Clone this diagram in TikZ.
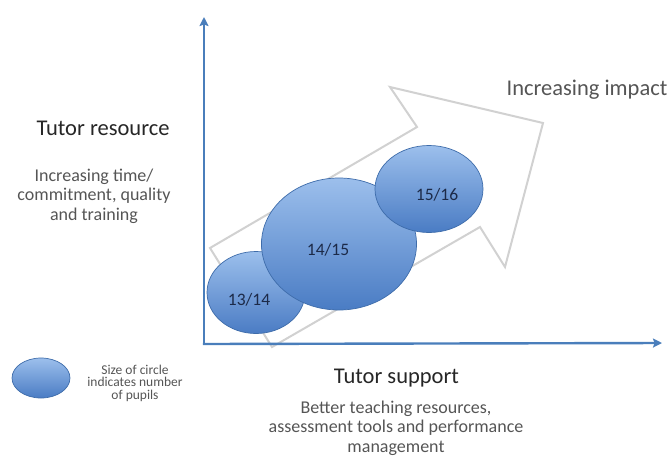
\documentclass[tikz,border=0pt]{standalone}
\usepackage{fontspec}
\setmainfont{Carlito}
\usetikzlibrary{arrows.meta,shapes.geometric,positioning}
\definecolor{axisblue}{HTML}{4A7EBB}
\definecolor{blobtop}{HTML}{9CBFEC}
\definecolor{blobbot}{HTML}{4A7CC4}
\definecolor{blobline}{HTML}{3E6CAA}
\definecolor{labelink}{HTML}{1C2A48}
\definecolor{softgray}{HTML}{555555}

\begin{document}
\begin{tikzpicture}[x=1pt, y=-1pt, >={Stealth[length=9pt,width=9pt,inset=1.5pt]},
    axis/.style={->, draw=axisblue, line width=2.4pt},
    blob/.style={ellipse, draw=blobline, line width=0.7pt, top color=blobtop, bottom color=blobbot, inner sep=0pt},
    year/.style={font=\fontsize{17.5}{19}\selectfont, text=labelink},
    heading/.style={font=\fontsize{22.5}{26}\selectfont, text=black!85},
    detail/.style={font=\fontsize{18}{19.5}\selectfont, text=softgray, align=center},
    legendtext/.style={font=\fontsize{13.5}{12.5}\selectfont, text=softgray, align=center}]
    \useasboundingbox (0,0) rectangle (672,459);

    % hollow arrow behind the circles
    \coordinate (t1) at (210,248);
    \coordinate (n1) at (417,127);
    \coordinate (h1) at (390,87);
    \coordinate (tip) at (543,123);
    \coordinate (h2) at (505,267);
    \coordinate (n2) at (480,227);
    \coordinate (t2) at (272,347);
    \draw[black!18, line width=2pt, line join=miter] (t1) -- (n1) -- (h1) -- (tip) -- (h2) -- (n2) -- (t2) -- cycle;

    % axes
    \coordinate (o) at (204,344);
    \coordinate (ytop) at (204,17);
    \coordinate (xend) at (662,343);
    \draw[axis] (o) -- (ytop);
    \draw[axis] ([xshift=-1.2pt]o) -- (xend);

    % yearly circles, size = number of pupils
    \node[blob, minimum width=98pt, minimum height=82pt] (y13) at (256,292.5) {};
    \node[blob, minimum width=155pt, minimum height=132pt] (y14) at (339,244) {};
    \node[blob, minimum width=108pt, minimum height=87pt] (y15) at (429,189) {};
    \node[year] (l13) at ([shift={(-7,7)}]y13.center) {13/14};
    \node[year] (l14) at ([shift={(-11,6)}]y14.center) {14/15};
    \node[year] (l15) at ([shift={(8,6)}]y15.center) {15/16};

    \node[heading, text=softgray] (impact) at (587,90) {Increasing impact};

    % vertical axis text
    \node[heading] (res) at (103,128) {Tutor resource};
    \node[detail] (resnote) at (94,196) {Increasing time/\\commitment, quality\\and training};

    % horizontal axis text
    \node[heading] (sup) at (396.5,378) {Tutor support};
    \node[detail] (supnote) at (396,428) {Better teaching resources,\\assessment tools and performance\\management};

    % legend
    \node[blob, minimum width=58pt, minimum height=40pt] (key) at (41,378) {};
    \node[legendtext] (keytext) at (135,383) {Size of circle\\indicates number\\of pupils};
\end{tikzpicture}
\end{document}
